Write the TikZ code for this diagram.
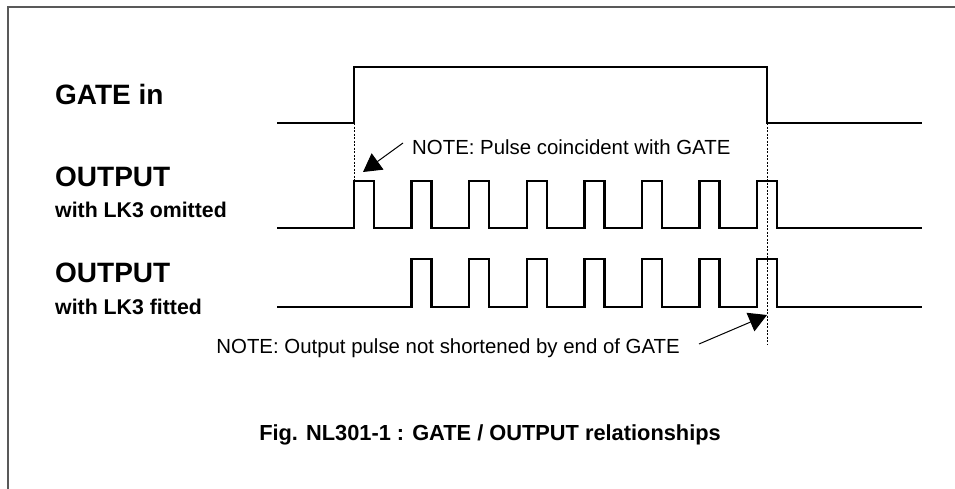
\documentclass[tikz,border=0pt]{standalone}
\usepackage{fontspec}
\setmainfont{Liberation Sans}
\usetikzlibrary{arrows.meta,positioning}

\begin{document}
\begin{tikzpicture}[
  x=1pt,y=-1pt,
  wave/.style={line width=2.3pt,line join=miter},
  marker/.style={line width=0.6pt,dash pattern=on 2pt off 1.5pt},
  callout/.style={-{Triangle[length=18pt,width=20pt]},line width=1pt},
  siglbl/.style={anchor=west,inner sep=0pt,font=\fontsize{28}{32}\selectfont\bfseries},
  sublbl/.style={anchor=west,inner sep=0pt,font=\fontsize{21.3}{25}\selectfont\bfseries},
  note/.style={inner sep=0pt,font=\fontsize{20.4}{24}\selectfont}
]
  \useasboundingbox (0,0) rectangle (955,488);
  % frame
  \draw[line width=1.4pt,gray!70!black] (8,500) -- (8,7) -- (970,7);

  % signal names
  \node[siglbl] (gatelbl) at (55,94) {GATE in};
  \node[siglbl] (outalbl) at (55,177) {OUTPUT};
  \node[sublbl] (omitlbl) at (55,210) {with LK3 omitted};
  \node[siglbl] (outblbl) at (55,273) {OUTPUT};
  \node[sublbl] (fitlbl) at (55,307) {with LK3 fitted};

  % waveforms
  \draw[wave] (277,123) -- (354,123) -- (354,67) -- (767,67) -- (767,123) -- (922,123);
  \draw[wave] (277,228)
    \foreach \k in {0,...,7} { -- ({354+57.6*\k},228) -- ++(0,-47) -- ++(20,0) -- ++(0,47) }
    -- (922,228);
  \draw[wave] (277,307)
    \foreach \k in {1,...,7} { -- ({354+57.6*\k},307) -- ++(0,-48) -- ++(20,0) -- ++(0,48) }
    -- (922,307);

  % gate edges
  \coordinate (rise) at (354,123);
  \coordinate (risept) at (354,182);
  \coordinate (fall) at (767,123);
  \coordinate (fallend) at (767,344);
  \draw[marker] (rise) -- (risept);
  \draw[marker] (fall) -- (fallend);

  % notes
  \node[note,anchor=west] (note1) at (412,147) {NOTE: Pulse coincident with GATE};
  \coordinate (tail1) at (403,143);
  \coordinate (head1) at (363,172);
  \draw[callout] (tail1) -- (head1);

  \node[note,anchor=east] (note2) at (680,348) {NOTE: Output pulse not shortened by end of GATE};
  \coordinate (tail2) at (699,344);
  \coordinate (head2) at (767,315);
  \draw[callout] (tail2) -- (head2);

  % caption
  \node[note,font=\fontsize{21.8}{26}\selectfont\bfseries] (caption) at (490,435)
    {Fig. NL301-1 : GATE / OUTPUT relationships};
\end{tikzpicture}
\end{document}
